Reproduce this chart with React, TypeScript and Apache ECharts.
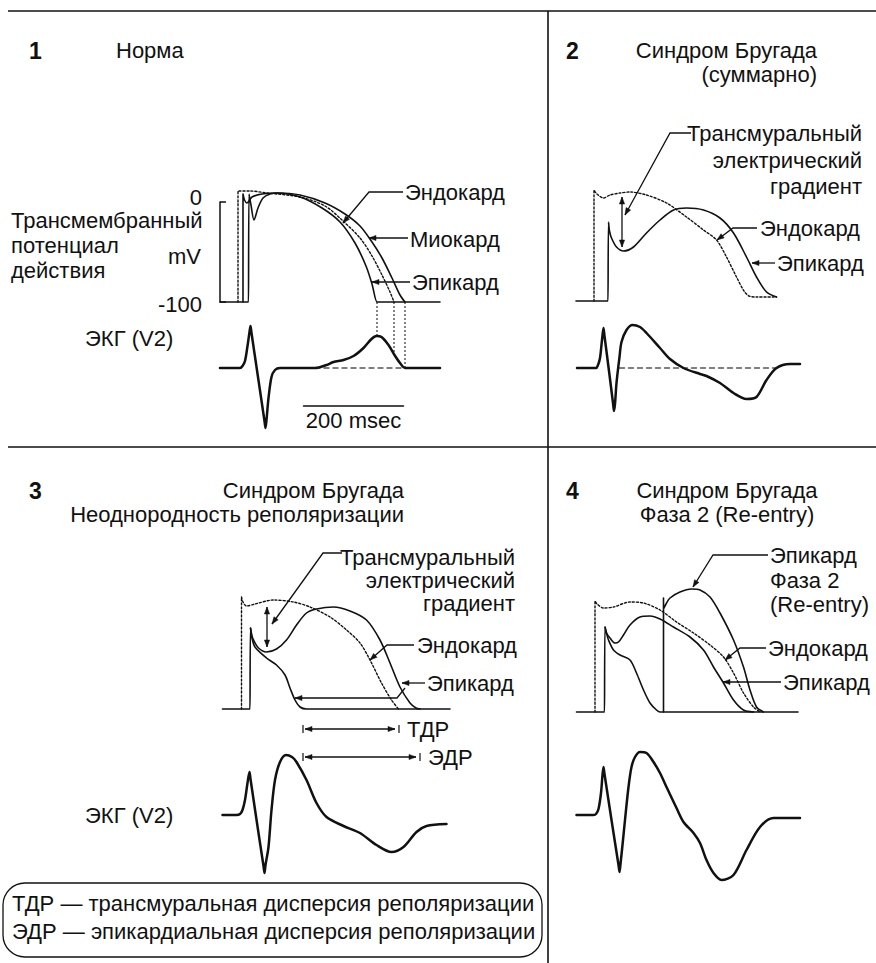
import React, { useEffect, useRef } from "react";
import * as echarts from "echarts";

type Pt = [number, number];

// Units: time in ms (from panel start), action potential in mV, ECG in mV.

// ---- Panel 1: Норма ----
const p1EndoAP: Pt[] = [[36,-100],[36,11],[38,11],[60,11],[94,9],[160,5],[210,-4],[246,-19],[280,-36],[304,-54],[324,-73],[340,-90],[348,-100]];
const p1MyoAP: Pt[] = [[46,-100],[46,8],[49,2],[54,-1],[64,5],[84,8],[114,9],[160,7],[210,-1],[250,-12],[280,-24],[304,-40],[324,-56],[344,-76],[360,-93],[370,-100]];
const p1EpiAP: Pt[] = [[0,-100],[57,-100],[58,-100],[58,8],[62,-3],[68,-18],[76,-6],[86,4],[100,8],[114,9],[160,5],[204,-6],[240,-20],[270,-41],[292,-64],[304,-82],[314,-100],[316,-100],[440,-100]];
const p1ECG: Pt[] = [[0,0],[40,0],[45,0.02],[50,0.07],[55,0.22],[59,0.36],[61,0.42],[63,0.35],[76,-0.09],[89,-0.53],[91,-0.6],[93,-0.52],[97,-0.3],[103,-0.09],[110,-0.02],[120,0],[190,0],[213,0.03],[227,0.06],[247,0.08],[267,0.12],[287,0.2],[303,0.29],[313,0.32],[323,0.31],[337,0.23],[349,0.13],[360,0.05],[370,0],[440,0]];
const p1EcgBase: Pt[] = [[190,0],[370,0]];
const p1ScaleBar: Pt[] = [[167,-0.38],[367,-0.38]];
// repolarisation end (ms) -> ECG value where the dotted guide stops
const p1Guides: Pt[] = [[314,0.32],[348,0.13],[370,0]];

// ---- Panel 2: Синдром Бругада (суммарно) ----
const p2EndoAP: Pt[] = [[36,-100],[36,11],[42,7],[55,3],[68,6],[88,8],[108,9],[141,6],[181,-2],[221,-16],[255,-29],[281,-39],[301,-56],[321,-76],[336,-90],[346,-95],[361,-96],[401,-96]];
const p2EpiAP: Pt[] = [[0,-100],[64,-100],[65,-100],[65,-21],[67,-30],[71,-37],[81,-46],[95,-50],[115,-46],[141,-32],[168,-19],[195,-9],[221,-7],[255,-9],[288,-17],[315,-32],[341,-56],[361,-76],[381,-91],[401,-96]];
const p2ECG: Pt[] = [[2,0],[40,0],[44,0.03],[48,0.1],[52,0.28],[55,0.4],[57,0.32],[66,-0.03],[74,-0.35],[76,-0.43],[78,-0.36],[81,-0.15],[87,0.11],[91,0.26],[101,0.38],[113,0.43],[128,0.41],[141,0.35],[168,0.2],[188,0.09],[215,0],[248,-0.06],[261,-0.08],[288,-0.15],[315,-0.25],[341,-0.31],[361,-0.29],[381,-0.12],[401,0],[428,0.04],[448,0.04]];
const p2EcgBase: Pt[] = [[87,0],[405,0]];
const p2Gradient = { ms: 92, from: 4, to: -46 };

// ---- Panel 3: Неоднородность реполяризации ----
const p3EndoAP: Pt[] = [[43,-100],[43,12],[46,7],[53,3],[70,5],[107,9],[147,7],[180,2],[220,-8],[253,-21],[280,-34],[300,-51],[323,-74],[343,-91],[357,-100]];
const p3EpiDomeAP: Pt[] = [[61,-19],[64,-27],[67,-31],[77,-39],[93,-43],[113,-40],[133,-31],[153,-16],[173,-4],[193,0],[227,2],[260,-2],[293,-11],[320,-31],[340,-54],[360,-78],[380,-94],[392,-99],[400,-100]];
const p3EpiLostAP: Pt[] = [[5,-100],[60,-100],[61,-100],[61,-19],[64,-29],[70,-38],[93,-49],[113,-56],[130,-66],[140,-79],[150,-91],[160,-98],[173,-100],[175,-100],[460,-100]];
const p3ECG: Pt[] = [[5,0],[33,0],[40,0.01],[45,0.05],[50,0.15],[55,0.32],[59,0.43],[61,0.36],[74,-0.08],[87,-0.51],[89,-0.58],[91,-0.5],[97,-0.32],[103,0.05],[110,0.35],[120,0.53],[132,0.6],[144,0.58],[153,0.53],[173,0.35],[193,0.12],[213,-0.02],[247,-0.11],[280,-0.18],[313,-0.3],[343,-0.37],[367,-0.32],[393,-0.17],[413,-0.11],[453,-0.09]];
const p3Gradient = { ms: 94, from: 2, to: -38 };
const p3TDR: Pt = [166, 358];
const p3EDR: Pt = [166, 400];

// ---- Panel 4: Фаза 2 (Re-entry) ----
const p4EndoAP: Pt[] = [[38,-100],[38,11],[42,8],[55,4],[75,5],[108,10],[135,9],[168,2],[201,-10],[235,-21],[268,-33],[295,-45],[315,-61],[335,-81],[355,-95],[368,-100]];
const p4EpiDomeAP: Pt[] = [[58,-15],[61,-21],[68,-26],[78,-31],[85,-30],[95,-23],[108,-13],[128,-5],[148,-4],[168,-7],[195,-15],[228,-25],[255,-38],[275,-55],[295,-71],[315,-88],[335,-98],[355,-100]];
const p4EpiLostAP: Pt[] = [[1,-100],[57,-100],[58,-100],[58,-15],[61,-21],[65,-28],[75,-38],[88,-43],[108,-48],[121,-61],[135,-78],[148,-91],[161,-98],[168,-100],[170,-100],[444,-100]];
const p4ReentryAP: Pt[] = [[175,-100],[175,14],[175,3],[180,8],[188,14],[208,20],[231,23],[248,22],[268,15],[288,-1],[315,-28],[335,-55],[348,-78],[361,-95],[375,-100]];
const p4ECG: Pt[] = [[1,0],[35,0],[40,0.01],[45,0.06],[50,0.22],[53,0.4],[55,0.48],[57,0.41],[71,-0.05],[85,-0.5],[87,-0.57],[89,-0.49],[94,-0.25],[98,-0.05],[105,0.28],[111,0.48],[118,0.58],[128,0.63],[141,0.62],[155,0.53],[168,0.42],[181,0.28],[201,0.07],[215,-0.07],[235,-0.18],[248,-0.28],[261,-0.45],[275,-0.58],[291,-0.65],[315,-0.6],[341,-0.35],[368,-0.12],[395,-0.03],[448,-0.03]];

const apTickLabels = ["0", "-100"];

const FONT = '"Liberation Sans", Arial, Helvetica, sans-serif';
const FS = 22;
const INK = "#111";

const gridDefs = [
  { left: 220, top: 202, width: 230, height: 100, yMin: -100, yMax: 0 },   // 0 p1 AP
  { left: 576, top: 171, width: 230, height: 140, yMin: -110, yMax: 30 },  // 1 p2 AP
  { left: 220, top: 579, width: 230, height: 140, yMin: -110, yMax: 30 },  // 2 p3 AP
  { left: 576, top: 582, width: 230, height: 140, yMin: -110, yMax: 30 },  // 3 p4 AP
  { left: 220, top: 288, width: 230, height: 160, yMin: -0.8, yMax: 0.8 }, // 4 p1 ECG
  { left: 576, top: 288, width: 230, height: 160, yMin: -0.8, yMax: 0.8 }, // 5 p2 ECG
  { left: 220, top: 735, width: 230, height: 160, yMin: -0.8, yMax: 0.8 }, // 6 p3 ECG
  { left: 576, top: 735, width: 230, height: 160, yMin: -0.8, yMax: 0.8 }, // 7 p4 ECG
];

function ser(data: Pt[], gi: number, width = 1.6, type: any = "solid", color = INK, smooth: any = 0.3) {
  return {
    type: "line", data, xAxisIndex: gi, yAxisIndex: gi, symbol: "none", smooth,
    clip: false, silent: true,
    lineStyle: { color, width, type, cap: "round", join: "round" },
  };
}

function txt(text: string, x: number, y: number, align = "left", size = FS, weight = "normal") {
  return {
    type: "text", x, y, silent: true,
    style: {
      text, fill: INK, font: `${weight} ${size}px ${FONT}`, lineHeight: 20,
      textAlign: align, textVerticalAlign: "middle",
    },
  };
}

function seg(x1: number, y1: number, x2: number, y2: number, w = 1.3, dash?: number[], color = INK) {
  return {
    type: "line", silent: true, shape: { x1, y1, x2, y2 },
    style: { stroke: color, lineWidth: w, lineDash: dash || null },
  };
}

function head(x1: number, y1: number, x2: number, y2: number, len = 7, half = 2.6) {
  const a = Math.atan2(y2 - y1, x2 - x1);
  const bx = x2 - len * Math.cos(a), by = y2 - len * Math.sin(a);
  return {
    type: "polygon", silent: true,
    shape: { points: [[x2, y2], [bx + half * Math.sin(a), by - half * Math.cos(a)], [bx - half * Math.sin(a), by + half * Math.cos(a)]] },
    style: { fill: INK, stroke: INK, lineWidth: 0.5 },
  };
}

function pointer(pts: number[][]) {
  const n = pts.length;
  return [
    { type: "polyline", silent: true, shape: { points: pts }, style: { stroke: INK, lineWidth: 1.3, fill: "none" } },
    head(pts[n - 2][0], pts[n - 2][1], pts[n - 1][0], pts[n - 1][1]),
  ];
}

function dbl(x1: number, y1: number, x2: number, y2: number) {
  return [seg(x1, y1, x2, y2, 1.3), head(x2, y2, x1, y1), head(x1, y1, x2, y2)];
}

export default function App() {
  const ref = useRef<HTMLDivElement>(null);
  useEffect(() => {
    document.body.style.margin = "0";
    const chart = echarts.init(ref.current!, null, { renderer: "svg" });
    const xAxis = gridDefs.map((g, i) => ({ type: "value", gridIndex: i, min: 0, max: 460, show: false }));
    const yAxis: any[] = gridDefs.map((g, i) => ({ type: "value", gridIndex: i, min: g.yMin, max: g.yMax, show: false }));
    yAxis[0] = {
      type: "value", gridIndex: 0, min: -100, max: 0, interval: 100, show: true, offset: 10,
      axisLine: { show: true, lineStyle: { color: INK, width: 1.5 } },
      axisTick: { show: true, inside: true, length: 6, lineStyle: { color: INK, width: 1.5 } },
      axisLabel: {
        show: true, margin: 8, color: INK, fontSize: FS, fontFamily: FONT,
        formatter: (v: number) => (v === 0 ? `{top|${apTickLabels[0]}}` : `{bot|${apTickLabels[1]}}`),
        rich: {
          top: { fontSize: FS, fontFamily: FONT, color: INK, padding: [0, 0, 10, 0] },
          bot: { fontSize: FS, fontFamily: FONT, color: INK, padding: [5, 0, 0, 0] },
        },
      },
      splitLine: { show: false },
    };
    const dotted = [2, 2];
    chart.setOption({
      animation: false,
      grid: gridDefs.map((g) => ({ left: g.left, top: g.top, width: g.width, height: g.height, containLabel: false })),
      xAxis, yAxis,
      series: [
        ser(p1EpiAP, 0), ser(p1MyoAP, 0), ser(p1EndoAP, 0, 1.4, dotted),
        ser(p1EcgBase, 4, 1.4, [5, 4], "#555", false), ser(p1ECG, 4, 2.5), ser(p1ScaleBar, 4, 1.5, "solid", INK, false),
        ser(p2EpiAP, 1), ser(p2EndoAP, 1, 1.4, dotted),
        ser(p2EcgBase, 5, 1.4, [5, 4], "#555", false), ser(p2ECG, 5, 2.5),
        ser(p3EpiLostAP, 2), ser(p3EpiDomeAP, 2), ser(p3EndoAP, 2, 1.4, dotted), ser(p3ECG, 6, 2.5),
        ser(p4EpiLostAP, 3), ser(p4EpiDomeAP, 3), ser(p4ReentryAP, 3), ser(p4EndoAP, 3, 1.4, dotted), ser(p4ECG, 7, 2.5),
      ],
    });

    const cp = (gi: number, x: number, y: number) => chart.convertToPixel({ gridIndex: gi } as any, [x, y]) as number[];
    const els: any[] = [];
    // frame
    els.push(seg(8, 11, 876, 11, 1.6), seg(548, 11, 548, 963, 1.6), seg(8, 447, 876, 447, 1.6));

    // Panel 1
    els.push(txt("1", 29, 51, "left", 23, "bold"), txt("Норма", 116, 50));
    els.push(txt("Трансмембранный", 11, 220), txt("потенциал", 11, 245), txt("действия", 11, 270));
    els.push(txt("mV", 201, 256, "right"));
    els.push(txt("ЭКГ (V2)", 85, 338));
    const sb0 = cp(4, p1ScaleBar[0][0], p1ScaleBar[0][1]);
    const sb1 = cp(4, p1ScaleBar[1][0], p1ScaleBar[1][1]);
    els.push(txt("200 msec", (sb0[0] + sb1[0]) / 2, sb0[1] + 14, "center"));
    p1Guides.forEach(([ms, v]) => {
      const a = cp(0, ms, -100), b = cp(4, ms, v);
      els.push(seg(a[0], a[1], b[0], b[1], 1.2, [2, 2], "#333"));
    });
    els.push(...pointer([[403, 192], [369, 192], [343, 223]]), txt("Эндокард", 405, 192));
    els.push(...pointer([[408, 238], [369, 238]]), txt("Миокард", 410, 239));
    els.push(...pointer([[410, 282], [372, 282]]), txt("Эпикард", 412, 282));

    // Panel 2
    els.push(txt("2", 566, 51, "left", 23, "bold"), txt("Синдром Бругада", 817, 50, "right"), txt("(суммарно)", 817, 74, "right"));
    els.push(txt("Трансмуральный", 862, 133, "right"), txt("электрический", 862, 160, "right"), txt("градиент", 862, 186, "right"));
    els.push(...pointer([[691, 133], [670, 133], [625, 215]]));
    {
      const a = cp(1, p2Gradient.ms, p2Gradient.from), b = cp(1, p2Gradient.ms, p2Gradient.to);
      els.push(...dbl(a[0], a[1], b[0], b[1]));
    }
    els.push(...pointer([[757, 228], [733, 228], [717, 240]]), txt("Эндокард", 760, 228));
    els.push(...pointer([[775, 263], [752, 263]]), txt("Эпикард", 777, 263));

    // Panel 3
    els.push(txt("3", 29, 491, "left", 23, "bold"), txt("Синдром Бругада", 404, 490, "right"), txt("Неоднородность реполяризации", 404, 514, "right"));
    els.push(txt("Трансмуральный", 515, 557, "right"), txt("электрический", 515, 580, "right"), txt("градиент", 515, 603, "right"));
    els.push(...pointer([[342, 553], [323, 553], [272, 624]]));
    {
      const a = cp(2, p3Gradient.ms, p3Gradient.from), b = cp(2, p3Gradient.ms, p3Gradient.to);
      els.push(...dbl(a[0], a[1], b[0], b[1]));
    }
    els.push(...pointer([[414, 645], [387, 645], [370, 660]]), txt("Эндокард", 417, 645));
    els.push(...pointer([[425, 683], [402, 683]]), txt("Эпикард", 427, 683));
    els.push(...pointer([[405, 688], [397, 698], [295, 698]]));
    [[p3TDR, 729, "ТДР"], [p3EDR, 757, "ЭДР"]].forEach(([iv, y, label]: any) => {
      const x0 = cp(2, iv[0], -100)[0], x1 = cp(2, iv[1], -100)[0];
      els.push(seg(x0, y - 4, x0, y + 4, 1.2), seg(x1, y - 4, x1, y + 4, 1.2));
      els.push(...dbl(x0 + 2, y, x1 - 4, y));
      els.push(txt(label, x1 + 8, y));
    });
    els.push(txt("ЭКГ (V2)", 85, 815));

    // Panel 4
    els.push(txt("4", 566, 491, "left", 23, "bold"), txt("Синдром Бругада", 727, 490, "center"), txt("Фаза 2 (Re-entry)", 727, 514, "center"));
    els.push(txt("Эпикард", 770, 555), txt("Фаза 2", 770, 580), txt("(Re-entry)", 770, 604));
    els.push(...pointer([[768, 555], [713, 555], [693, 587]]));
    els.push(...pointer([[766, 648], [740, 648], [725, 660]]), txt("Эндокард", 768, 648));
    els.push(...pointer([[781, 682], [723, 682]]), txt("Эпикард", 783, 682));

    // Legend box
    els.push({ type: "rect", silent: true, shape: { x: 3, y: 883, width: 539, height: 74, r: 22 }, style: { fill: "none", stroke: INK, lineWidth: 1.3 } });
    els.push(txt("ТДР — трансмуральная дисперсия реполяризации", 12, 903));
    els.push(txt("ЭДР — эпикардиальная дисперсия реполяризации", 12, 931));

    chart.setOption({ graphic: { elements: els } });
    return () => chart.dispose();
  }, []);
  return <div ref={ref} style={{ width: 876, height: 963, background: "#fff" }} />;
}
